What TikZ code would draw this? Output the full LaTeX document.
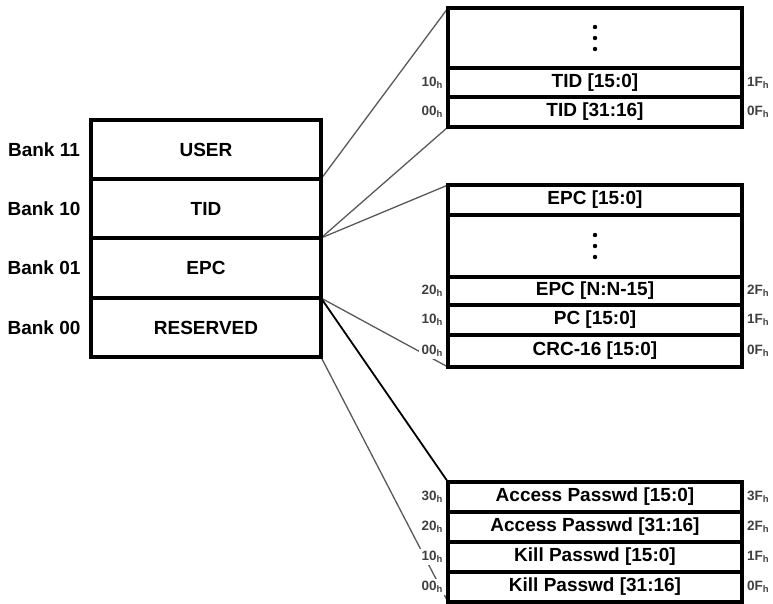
\documentclass[tikz,border=0pt]{standalone}
\usepackage{fontspec}
\setmainfont{Liberation Sans}
\usetikzlibrary{positioning,backgrounds}

\begin{document}
\begin{tikzpicture}[x=1pt,y=-1pt,
    bank/.style={draw, line width=3.5pt, outer sep=0pt, minimum width=230pt, minimum height=#1, font=\bfseries\fontsize{19}{21}\selectfont},
    mem/.style={draw, line width=3.5pt, outer sep=0pt, minimum width=294pt, minimum height=#1, inner sep=0pt, font=\bfseries\fontsize{19}{21}\selectfont},
    banklabel/.style={font=\bfseries\fontsize{19}{21}\selectfont},
    addr/.style={fill=white, inner sep=2.5pt, text=black!75, font=\bfseries\fontsize{13.5}{15}\selectfont},
    link/.style={line width=1.3pt, black!65},
    boldlink/.style={line width=1.8pt, black},
    frame/.style={line width=4.5pt}]
    \useasboundingbox (0,0) rectangle (773,603);

    % memory banks
    \node[bank=59pt] (user) at (206,149.5) {USER};
    \node[bank=59pt] (tid) at (206,208.5) {TID};
    \node[bank=60pt] (epc) at (206,268) {EPC};
    \node[bank=59pt] (rsv) at (206,327.5) {RESERVED};
    \draw[frame] (user.north west) rectangle (rsv.south east);

    \node[banklabel] (b11) at (44,149.5) {Bank 11};
    \node[banklabel] (b10) at (44,208.5) {Bank 10};
    \node[banklabel] (b01) at (44,268) {Bank 01};
    \node[banklabel] (b00) at (44,327.5) {Bank 00};

    % TID
    \node[mem=60pt] (tiddots) at (595,38) {};
    \node[mem=29pt] (tidlo) at (595,82.5) {TID [15:0]};
    \node[mem=30pt] (tidhi) at (595,112) {TID [31:16]};
    \draw[frame] (tiddots.north west) rectangle (tidhi.south east);
    \foreach \d in {-11,0,11}
        \fill (tiddots.center) ++(0,\d) circle (2.2pt);

    % EPC
    \node[mem=30pt] (epclo) at (595,200) {EPC [15:0]};
    \node[mem=62pt] (epcdots) at (595,246) {};
    \node[mem=28pt] (epcn) at (595,291) {EPC [N:N-15]};
    \node[mem=30pt] (pc) at (595,320) {PC [15:0]};
    \node[mem=32pt] (crc) at (595,351) {CRC-16 [15:0]};
    \draw[frame] (epclo.north west) rectangle (crc.south east);
    \foreach \d in {-11,0,11}
        \fill (epcdots.center) ++(0,\d) circle (2.2pt);

    % RESERVED
    \node[mem=30pt] (acclo) at (595,497) {Access Passwd [15:0]};
    \node[mem=30pt] (acchi) at (595,527) {Access Passwd [31:16]};
    \node[mem=30pt] (killlo) at (595,557) {Kill Passwd [15:0]};
    \node[mem=30pt] (killhi) at (595,587) {Kill Passwd [31:16]};
    \draw[frame] (acclo.north west) rectangle (killhi.south east);

    % addresses
    \node[addr, left=2.5pt of tidlo] (t10) {10\textsubscript{h}};
    \node[addr, left=2.5pt of tidhi] (t00) {00\textsubscript{h}};
    \node[addr, right=2.5pt of tidlo] (t1f) {1F\textsubscript{h}};
    \node[addr, right=2.5pt of tidhi] (t0f) {0F\textsubscript{h}};

    \node[addr, left=2.5pt of epcn] (e20) {20\textsubscript{h}};
    \node[addr, left=2.5pt of pc] (e10) {10\textsubscript{h}};
    \node[addr, left=2.5pt of crc] (e00) {00\textsubscript{h}};
    \node[addr, right=2.5pt of epcn] (e2f) {2F\textsubscript{h}};
    \node[addr, right=2.5pt of pc] (e1f) {1F\textsubscript{h}};
    \node[addr, right=2.5pt of crc] (e0f) {0F\textsubscript{h}};

    \node[addr, left=2.5pt of acclo] (r30) {30\textsubscript{h}};
    \node[addr, left=2.5pt of acchi] (r20) {20\textsubscript{h}};
    \node[addr, left=2.5pt of killlo] (r10) {10\textsubscript{h}};
    \node[addr, left=2.5pt of killhi] (r00) {00\textsubscript{h}};
    \node[addr, right=2.5pt of acclo] (r3f) {3F\textsubscript{h}};
    \node[addr, right=2.5pt of acchi] (r2f) {2F\textsubscript{h}};
    \node[addr, right=2.5pt of killlo] (r1f) {1F\textsubscript{h}};
    \node[addr, right=2.5pt of killhi] (r0f) {0F\textsubscript{h}};

    \begin{scope}[on background layer]
        \draw[link] (tid.north east) -- (tiddots.north west);
        \draw[link] (tid.south east) -- (tidhi.south west);
        \draw[link] (epc.north east) -- (epclo.north west);
        \draw[link] (epc.south east) -- (crc.south west);
        \draw[boldlink] (epc.south east) -- (acclo.north west);
        \draw[link] (rsv.south east) -- (killhi.south west);
    \end{scope}
\end{tikzpicture}
\end{document}
